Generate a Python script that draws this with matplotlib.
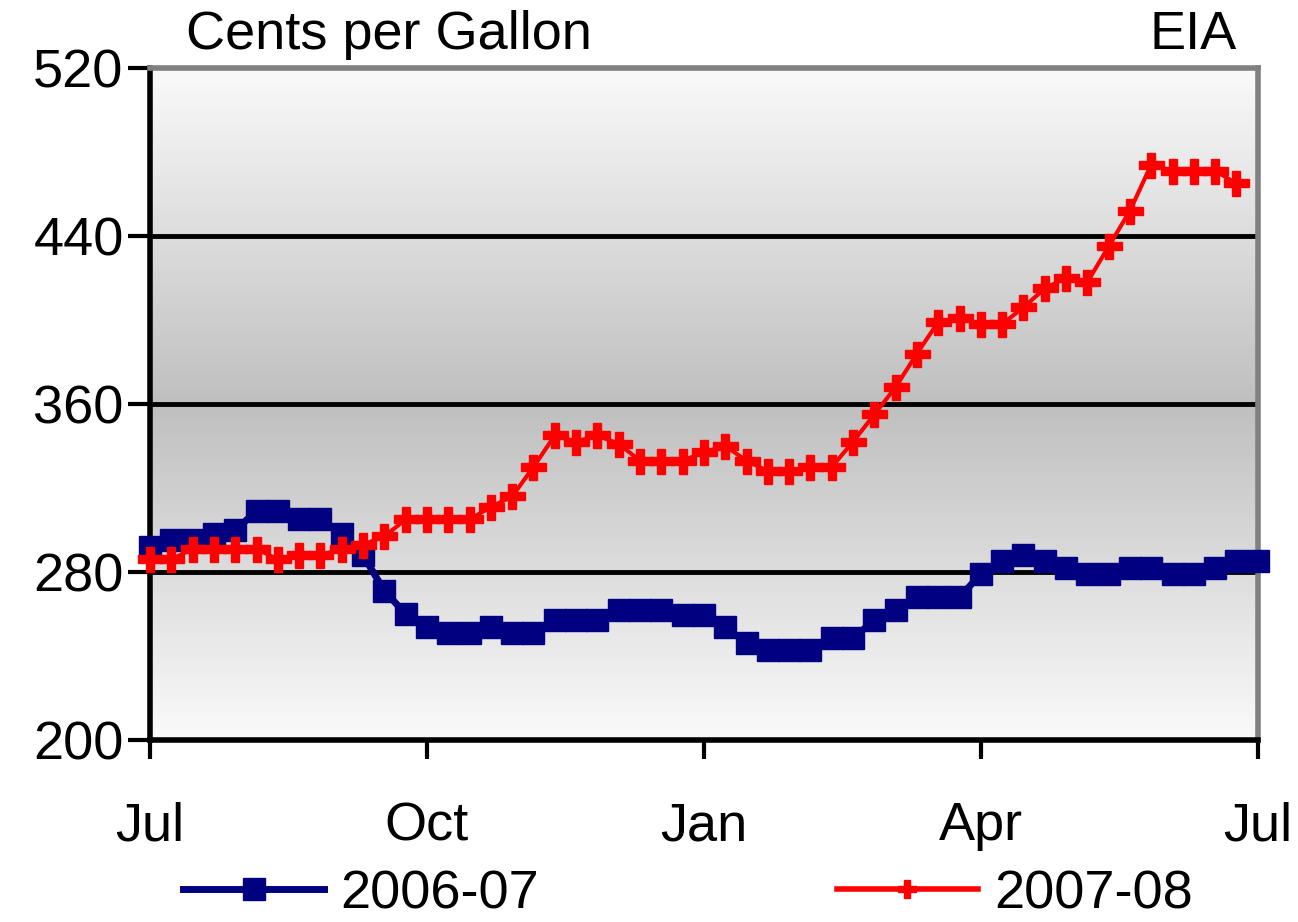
import matplotlib.pyplot as plt
import numpy as np
from matplotlib.lines import Line2D

# weekly retail prices, cents per gallon (week 0 = first week of July)
weeks_0607 = np.arange(53)
price_0607 = [292, 295, 295, 298, 300, 309, 309, 305, 305, 298,
              288, 271, 260, 254, 251, 251, 254, 251, 251, 257,
              257, 257, 262, 262, 262, 259.5, 259.5, 254, 246, 243,
              243, 243, 248.5, 248.5, 257, 262, 268, 268, 268, 279,
              285, 288, 285, 282, 279, 279, 282, 282, 279, 279,
              282, 285, 285]

weeks_0708 = np.arange(52)
price_0708 = [286, 286, 291, 291, 291, 291, 286, 288, 288, 291,
              293, 297, 305, 305, 305, 305, 311, 316, 330, 345,
              342, 345, 341, 333, 333, 333, 337, 340, 333, 328,
              328, 330, 330, 342, 355, 368, 384, 399, 401, 398,
              398, 406, 415, 420, 418, 435, 452, 474, 471, 471,
              471, 465]

month_pos = [0, 13, 26, 39, 52]
month_lbl = ['Jul', 'Oct', 'Jan', 'Apr', 'Jul']
y_ticks = [200, 280, 360, 440, 520]

plt.rcParams['font.family'] = ['Liberation Sans', 'DejaVu Sans']
fs = 39

fig = plt.figure(figsize=(12.98, 9.22), dpi=100)
ax = fig.add_axes([0.1156, 0.1974, 0.8534, 0.7289])

# grey band in the middle fading to white at top and bottom
t = np.linspace(0, 1, 256)
shade = np.interp(t, [0, 0.5, 1], [0.98, 0.75, 0.98])
g = np.repeat(shade[:, None], 2, axis=1)
grad = np.stack([g, g, g], axis=-1)
ax.imshow(grad, extent=[0, 52, 200, 520], aspect='auto', origin='lower',
          interpolation='bilinear', zorder=0)

for y in [280, 360, 440]:
    ax.axhline(y, color='black', lw=3.5, zorder=1)

ax.plot(weeks_0607, price_0607, color='#000080', lw=5, marker='s', ms=16,
        zorder=3, clip_on=False)
ax.plot(weeks_0708, price_0708, color='#ff0000', lw=3, marker='P', ms=18,
        zorder=4, clip_on=False)

ax.set_xlim(0, 52)
ax.set_ylim(200, 520)
ax.set_xticks(month_pos)
ax.set_xticklabels(month_lbl, fontsize=fs)
ax.set_yticks(y_ticks)
ax.set_yticklabels([str(v) for v in y_ticks], fontsize=fs)
ax.tick_params(axis='x', length=14, width=3, pad=30)
ax.tick_params(axis='y', length=16, width=3, pad=3)

for s in ['left', 'bottom']:
    ax.spines[s].set_linewidth(4)
    ax.spines[s].set_color('black')
for s in ['top', 'right']:
    ax.spines[s].set_linewidth(4)
    ax.spines[s].set_color('#808080')

fig.text(0.143, 0.962, 'Cents per Gallon', fontsize=fs, ha='left', va='center')
fig.text(0.953, 0.962, 'EIA', fontsize=fs, ha='right', va='center')

handles = [Line2D([], [], color='#000080', lw=5, marker='s', ms=16),
           Line2D([], [], color='#ff0000', lw=4, marker='P', ms=13)]
fig.legend(handles, ['2006-07', '2007-08'], loc='center',
           bbox_to_anchor=(0.53, 0.03), ncol=2, frameon=False, fontsize=fs,
           handlelength=2.6, columnspacing=5.5, handletextpad=0.3,
           borderpad=0)

fig.savefig('out.png', dpi=100)
